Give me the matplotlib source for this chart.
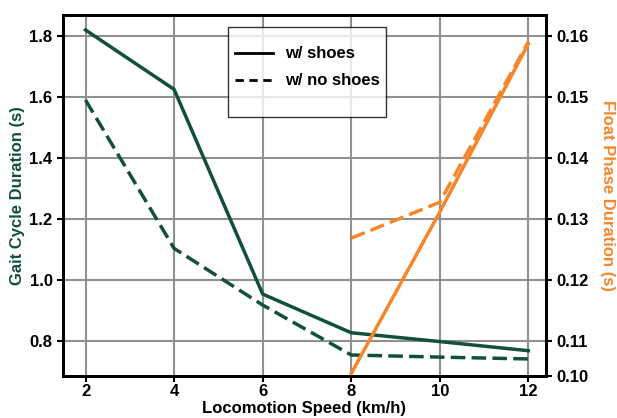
import numpy as np
import matplotlib
matplotlib.use("Agg")
import matplotlib.pyplot as plt
from matplotlib.lines import Line2D

# =============================================================
# DATA
# =============================================================
speed       = [2, 4, 6, 8, 10, 12]
gait_shoes  = [1.82, 1.625, 0.953, 0.826, 0.797, 0.767]
gait_bare   = [1.59, 1.103, 0.917, 0.753, 0.746, 0.740]

float_speed = [8, 10, 12]
float_shoes = [0.1046, 0.1311, 0.1587]
float_bare  = [0.1268, 0.1327, 0.1590]

left_ticks   = [0.8, 1.0, 1.2, 1.4, 1.6, 1.8]
right_ticks  = [0.1042, 0.11, 0.12, 0.13, 0.14, 0.15, 0.16]
right_labels = ["0.10", "0.11", "0.12", "0.13", "0.14", "0.15", "0.16"]

GREEN  = "#12503b"
ORANGE = "#f7862a"
DASH   = (0, (4.2, 1.8))
LW     = 2.5

plt.rcParams["font.family"] = ["Liberation Sans", "DejaVu Sans"]
plt.rcParams["font.weight"] = "bold"

# =============================================================
# PLOT
# =============================================================
fig = plt.figure(figsize=(6.17, 4.18), dpi=100)
ax = fig.add_axes([0.102, 0.1005, 0.783, 0.8635])
ax2 = ax.twinx()

ax.plot(speed, gait_shoes, color=GREEN, lw=LW)
ax.plot(speed, gait_bare, color=GREEN, lw=LW, ls=DASH)
ax2.plot(float_speed, float_shoes, color=ORANGE, lw=LW)
ax2.plot(float_speed, float_bare, color=ORANGE, lw=LW, ls=DASH)

ax.set_xlim(1.49, 12.4)
ax.set_ylim(0.684, 1.869)
ax2.set_ylim(0.1042, 0.1634)

ax.set_xticks(speed)
ax.set_yticks(left_ticks)
ax.set_yticklabels([f"{t:.1f}" for t in left_ticks])
ax2.set_yticks(right_ticks)
ax2.set_yticklabels(right_labels)

ax.grid(True, color="#909090", lw=1.5)
ax.set_axisbelow(True)

for a in (ax, ax2):
    a.tick_params(labelsize=12, width=1.5, length=4, direction="out")
    for s in a.spines.values():
        s.set_linewidth(2)
ax.tick_params(axis="x", pad=2)

ax.set_xlabel("Locomotion Speed (km/h)", fontsize=12, fontweight="bold", labelpad=1)
ax.set_ylabel("Gait Cycle Duration (s)", fontsize=12, fontweight="bold",
              color=GREEN, labelpad=3)
ax2.set_ylabel("Float Phase Duration (s)", fontsize=12, fontweight="bold",
               color=ORANGE, labelpad=8, rotation=270, va="bottom")

# legend box in the reference has extra room above and below the entries:
# a tiny blank title on top and a tiny blank row at the bottom
handles = [Line2D([], [], color="black", lw=2),
           Line2D([], [], color="black", lw=2, ls=(0, (3, 2))),
           Line2D([], [], color="none")]
leg = ax2.legend(handles, ["w/ shoes", "w/ no shoes", " "], loc="upper left",
                 bbox_to_anchor=(0.342, 0.967), borderaxespad=0, fontsize=12,
                 frameon=True, fancybox=False, edgecolor="black",
                 handlelength=2.3, handletextpad=0.7, borderpad=0.4,
                 labelspacing=0.7, handleheight=0.3,
                 title=" ", title_fontsize=1)
leg.get_texts()[2].set_fontsize(4)
leg.get_frame().set_linewidth(1)

fig.savefig("out.png", dpi=100)
